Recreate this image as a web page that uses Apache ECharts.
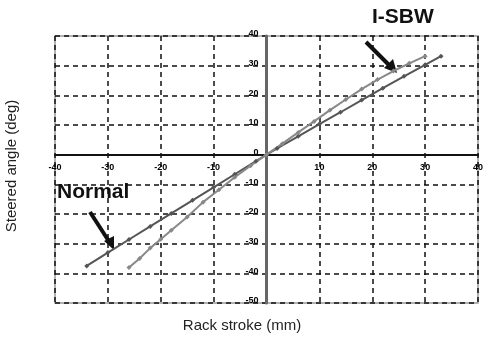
<!DOCTYPE html>
<html>
<head>
<meta charset="utf-8">
<script src="https://cdn.jsdelivr.net/npm/echarts@6/dist/echarts.min.js"></script>
<style>
  html, body { margin: 0; padding: 0; background: #fff; }
  #chart { width: 484px; height: 349px; }
</style>
</head>
<body>
<div id="chart"></div>
<script>
// Rack stroke (mm) vs steered angle (deg)
const xTicks = [-40, -30, -20, -10, 10, 20, 30, 40];
const yTicks = [-50, -40, -30, -20, -10, 0, 10, 20, 30, 40];

const normalStroke = [-34, -30, -26, -22, -18, -14, -10, -6, -2, 2, 6, 10, 14, 18, 22, 26, 30, 33];
const normalAngle  = [-37.5, -33, -28.6, -24.2, -19.8, -15.4, -11, -6.6, -2.2, 2.1, 6.2, 10.3, 14.3, 18.4, 22.4, 26.4, 30.3, 33.2];

const sbwStroke = [-26, -24, -22, -20, -18, -15, -12, -9, -6, -3, 0, 3, 6, 9, 12, 15, 18, 21, 24, 27, 30];
const sbwAngle  = [-38, -35, -31.5, -28.5, -25.5, -21, -16, -11.8, -7.6, -3.7, 0, 3.7, 7.5, 11.2, 15, 18.6, 22.1, 25.3, 28.2, 30.8, 33.2];

const pair = (xs, ys) => xs.map((x, i) => [x, ys[i]]);

const chart = echarts.init(document.getElementById('chart'), null, { renderer: 'canvas' });

const tickFont = {
  fontSize: 9, fontWeight: 'bold', color: '#000', fontFamily: 'Liberation Sans',
  textBorderWidth: 0, textBorderColor: 'transparent', opacity: 1
};

// tick labels ride on the zero lines, so they are drawn as labelled, symbol-less points
const tickLabelSeries = (data, position, offset) => ({
  type: 'scatter', data, symbolSize: 0, silent: true, z: 10,
  itemStyle: { color: '#000', opacity: 1 },
  label: { show: true, position, offset, ...tickFont, formatter: p => String(position === 'bottom' ? p.value[0] : p.value[1]) },
  emphasis: { disabled: true }
});

chart.setOption({
  backgroundColor: '#fff',
  animation: false,
  grid: { left: 55, right: 6, top: 36, bottom: 46, show: true, borderColor: '#999', borderWidth: 1.5 },
  xAxis: {
    type: 'value', min: -40, max: 40, interval: 10,
    axisLine: { show: true, onZero: true, lineStyle: { color: '#111', width: 2 } },
    axisTick: { show: false },
    axisLabel: { show: false },
    splitLine: { show: true, lineStyle: { color: '#111', type: [5, 4], width: 1.5 } }
  },
  yAxis: {
    type: 'value', min: -50, max: 40, interval: 10,
    axisLine: { show: true, onZero: true, lineStyle: { color: '#666', width: 3 } },
    axisTick: { show: false },
    axisLabel: { show: false },
    splitLine: { show: true, lineStyle: { color: '#111', type: [5, 4], width: 1.5 } }
  },
  series: [
    {
      name: 'Normal', type: 'line',
      data: pair(normalStroke, normalAngle),
      symbol: 'diamond', symbolSize: 5,
      lineStyle: { color: '#555', width: 2 },
      itemStyle: { color: '#555' }
    },
    {
      name: 'I-SBW', type: 'line',
      data: pair(sbwStroke, sbwAngle),
      symbol: 'diamond', symbolSize: 5,
      lineStyle: { color: '#888', width: 2 },
      itemStyle: { color: '#888' }
    },
    tickLabelSeries(xTicks.map(v => [v, 0]), 'bottom', [0, 3]),
    tickLabelSeries(yTicks.map(v => [0, v]), 'left', [-3, -2])
  ],
  graphic: [
    // axis titles
    { type: 'text', left: 'center', top: 318,
      style: { text: 'Rack stroke (mm)', font: '15px "Liberation Sans"', fill: '#222' } },
    { type: 'text', x: 12, y: 166, rotation: Math.PI / 2,
      style: { text: 'Steered angle (deg)', font: '15px "Liberation Sans"', fill: '#222', align: 'center', verticalAlign: 'middle' } },
    // series call-outs
    { type: 'text', x: 57, y: 182,
      style: { text: 'Normal', font: 'bold 21px "Liberation Sans"', fill: '#111' } },
    { type: 'line', shape: { x1: 90, y1: 212, x2: 110, y2: 243 }, style: { stroke: '#111', lineWidth: 4 } },
    { type: 'polygon', shape: { points: [[114, 250], [104, 241], [114, 236]] }, style: { fill: '#111' } },
    { type: 'text', x: 372, y: 7,
      style: { text: 'I-SBW', font: 'bold 21px "Liberation Sans"', fill: '#111' } },
    { type: 'line', shape: { x1: 366, y1: 42, x2: 390, y2: 66 }, style: { stroke: '#111', lineWidth: 4 } },
    { type: 'polygon', shape: { points: [[397, 73], [384, 68], [393, 59]] }, style: { fill: '#111' } }
  ]
});
</script>
</body>
</html>
